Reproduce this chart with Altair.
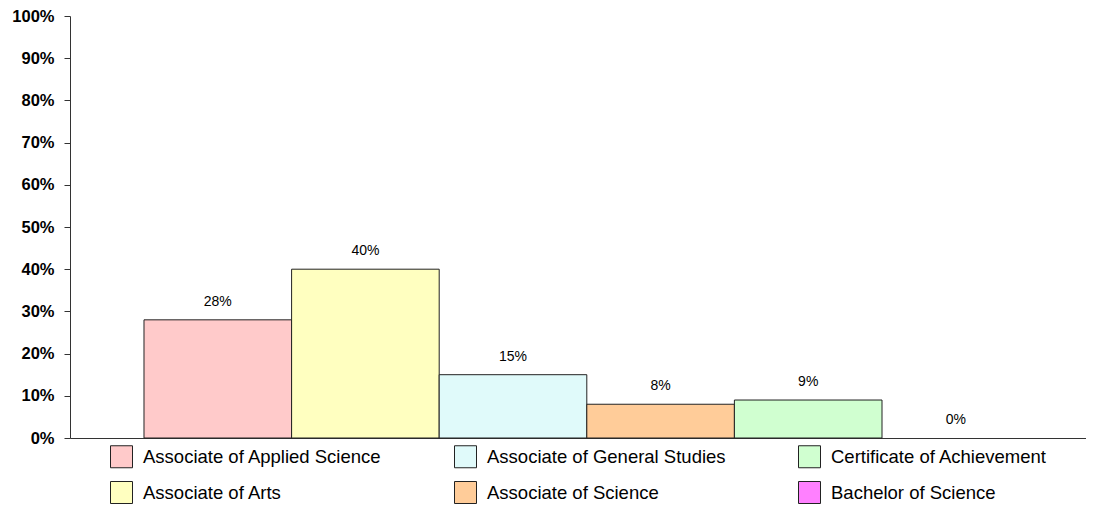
import altair as alt
import pandas as pd

categories = ["Associate of Applied Science", "Associate of Arts", "Associate of General Studies",
              "Associate of Science", "Certificate of Achievement", "Bachelor of Science"]
values = [0.28, 0.40, 0.15, 0.08, 0.09, 0.0]
colors = ["#ffcaca", "#ffffc0", "#e0fafa", "#ffcc99", "#d0ffd0", "#ff80ff"]

df = pd.DataFrame({"cat": categories, "val": values,
                   "label": [f"{round(v*100)}%" for v in values]})

x = alt.X("cat:N", sort=categories,
          scale=alt.Scale(paddingInner=0, paddingOuter=0.4417, align=0.5675),
          axis=alt.Axis(title=None, labels=False, ticks=False, domainColor="#333", domainWidth=1))
y = alt.Y("val:Q", scale=alt.Scale(domain=[0, 1]),
          axis=alt.Axis(title=None, format=".0%", values=[i/10 for i in range(11)],
                        labelFont="Liberation Sans", labelFontSize=16.5, labelFontWeight="bold",
                        labelColor="#000", tickSize=6, tickColor="#333", domainColor="#333",
                        labelPadding=10, grid=False))

bars = alt.Chart(df).mark_bar(stroke="#222", strokeWidth=1, opacity=1).encode(
    x=x, y=y,
    strokeOpacity=alt.condition(alt.datum.val > 0, alt.value(1), alt.value(0)),
    color=alt.Color("cat:N",
                    scale=alt.Scale(domain=categories, range=colors),
                    legend=alt.Legend(title=None, orient="none", legendX=40, legendY=429,
                                      columns=3, gridAlign="all", columnPadding=70, rowPadding=9,
                                      symbolType="square", symbolSize=484, symbolStrokeColor="#222",
                                      symbolStrokeWidth=1, symbolOpacity=1, labelOffset=10,
                                      labelFont="Liberation Sans", labelFontSize=18.5, labelColor="#000",
                                      labelLimit=400))
)
texts = alt.Chart(df).mark_text(font="Liberation Sans", fontSize=14, color="#000",
                                baseline="middle", dy=-18).encode(
    x=alt.X("cat:N", sort=categories), y="val:Q", text="label:N")

chart = alt.layer(bars, texts).properties(
    width=1016, height=422,
    padding={"left": 62, "top": 8, "right": 0, "bottom": 70},
    autosize=alt.AutoSizeParams(type="none")
).configure_view(stroke=None)

chart.save("out.html", embed_options={"renderer": "svg", "actions": False})
